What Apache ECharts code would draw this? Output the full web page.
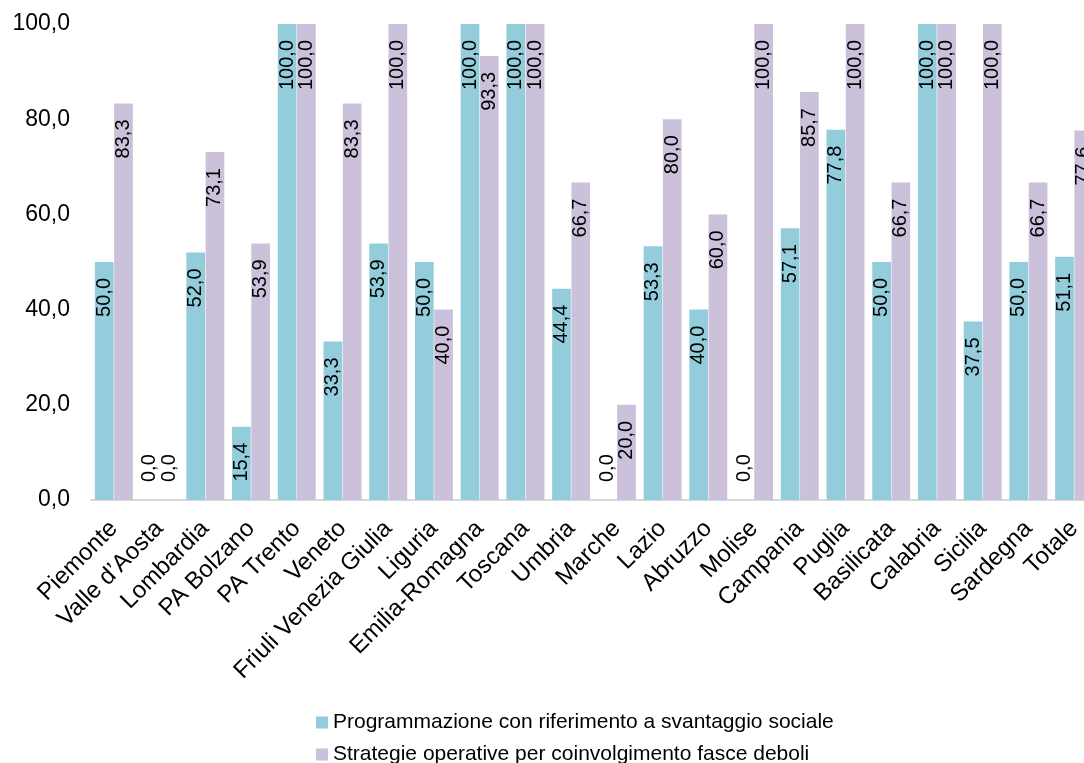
<!DOCTYPE html>
<html><head><meta charset="utf-8">
<script src="https://cdn.jsdelivr.net/npm/echarts@6/dist/echarts.min.js"></script>
<style>html,body{margin:0;padding:0;background:#fff;overflow:hidden;width:1084px;height:763px}#c{width:1100px;height:800px}</style>
</head><body><div id="c"></div>
<script>
const categories = ["Piemonte","Valle d\u2019Aosta","Lombardia","PA Bolzano","PA Trento","Veneto","Friuli Venezia Giulia","Liguria","Emilia-Romagna","Toscana","Umbria","Marche","Lazio","Abruzzo","Molise","Campania","Puglia","Basilicata","Calabria","Sicilia","Sardegna","Totale"];
const programmazione = [50.0,0.0,52.0,15.4,100.0,33.3,53.9,50.0,100.0,100.0,44.4,0.0,53.3,40.0,0.0,57.1,77.8,50.0,100.0,37.5,50.0,51.1];
const strategie = [83.3,0.0,73.1,53.9,100.0,83.3,100.0,40.0,93.3,100.0,66.7,20.0,80.0,60.0,100.0,85.7,100.0,66.7,100.0,100.0,66.7,77.6];
const seriesNames = ["Programmazione con riferimento a svantaggio sociale","Strategie operative per coinvolgimento fasce deboli"];
const yMin = 0, yMax = 100, yInterval = 20;

const FONT = "Liberation Sans, Arial, sans-serif";
const fmt = v => Number(v).toFixed(1).replace('.', ',');

function withLabels(arr) {
  return arr.map(v => {
    if (v === 0) {
      return { value: v, label: { position: 'insideBottom', align: 'left', verticalAlign: 'middle', distance: 18 } };
    }
    return { value: v, label: { position: 'insideTop', align: 'right', verticalAlign: 'middle', distance: 16 } };
  });
}

const labelBase = {
  show: true, rotate: 90, color: '#000', fontSize: 20, fontFamily: FONT,
  formatter: p => fmt(p.value)
};

const chart = echarts.init(document.getElementById('c'), null, { renderer: 'canvas' });
chart.setOption({
  animation: false,
  backgroundColor: '#fff',
  textStyle: { fontFamily: FONT },
  grid: { left: 91, top: 24, width: 1006, height: 476, containLabel: false },
  legend: {
    orient: 'vertical', left: 311, top: 707, itemGap: 11,
    itemWidth: 12, itemHeight: 12, icon: 'rect',
    textStyle: { fontSize: 21, color: '#000', fontFamily: FONT },
    data: seriesNames
  },
  xAxis: {
    type: 'category', data: categories,
    axisLine: { lineStyle: { color: '#D9D9D9', width: 2 } },
    axisTick: { show: false },
    axisLabel: { rotate: 45, interval: 0, color: '#000', fontSize: 24, fontFamily: FONT, margin: 25 }
  },
  yAxis: {
    type: 'value', min: yMin, max: yMax, interval: yInterval,
    axisLine: { show: false }, axisTick: { show: false },
    splitLine: { show: false },
    axisLabel: { color: '#000', fontSize: 23, fontFamily: FONT, margin: 21, formatter: v => fmt(v) }
  },
  series: [
    { name: seriesNames[0], type: 'bar', data: withLabels(programmazione),
      barGap: '3%', barCategoryGap: '17%',
      itemStyle: { color: '#93CDDC' }, label: labelBase },
    { name: seriesNames[1], type: 'bar', data: withLabels(strategie),
      itemStyle: { color: '#CCC1DA' }, label: labelBase }
  ]
});
</script></body></html>
